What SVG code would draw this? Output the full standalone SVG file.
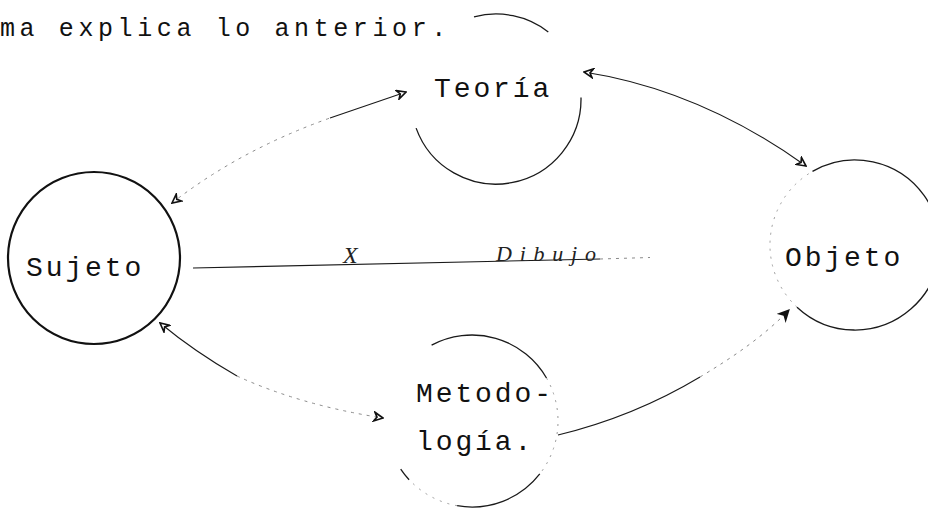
<svg xmlns="http://www.w3.org/2000/svg" width="928" height="509" viewBox="0 0 928 509">
<defs>
<style>
.bg{fill:#fff}
.tw{font-family:"Liberation Mono","DejaVu Sans Mono",monospace;fill:#111}
.lbl{font-size:28px;letter-spacing:2.9px}
.ttl{font-size:25px;letter-spacing:4.6px}
.hand{font-family:"Liberation Serif","DejaVu Serif",serif;font-style:italic;fill:#222}
.ring{fill:none;stroke:#1a1a1a;stroke-width:1.3}
.faint{fill:none;stroke:#9a9a9a;stroke-width:1;stroke-dasharray:2 6}
.edge{fill:none;stroke:#1a1a1a;stroke-width:1.1}
.edgefaint{fill:none;stroke:#8a8a8a;stroke-width:1;stroke-dasharray:3 5}
</style>
<marker id="ah-open" viewBox="0 0 10 10" refX="9" refY="5" markerWidth="11" markerHeight="11" markerUnits="userSpaceOnUse" orient="auto-start-reverse">
<path d="M1,1 L9,5 L1,9 L3.5,5 Z" fill="#fff" stroke="#111" stroke-width="1.5"/>
</marker>
<marker id="ah-fill" viewBox="0 0 10 10" refX="9" refY="5" markerWidth="13" markerHeight="13" markerUnits="userSpaceOnUse" orient="auto-start-reverse">
<path d="M0,0 L10,5 L0,10 L3,5 Z" fill="#111"/>
</marker>
</defs>
<rect class="bg" x="0" y="0" width="928" height="509"/>

<text class="tw ttl" x="0" y="36">ma explica lo anterior.</text>

<g id="connectors">
<!-- Sujeto <-> Teoria -->
<path class="edgefaint" d="M172 203 Q240 150 330 118" marker-start="url(#ah-open)"/>
<path class="edge" d="M330 118 L406 92" marker-end="url(#ah-open)"/>
<!-- Teoria <-> Objeto -->
<path class="edge" d="M584 72 Q700 90 806 166" marker-start="url(#ah-open)" marker-end="url(#ah-open)"/>
<!-- Sujeto - Objeto (Dibujo) -->
<path class="edge" d="M193 268 L600 259"/>
<path class="edgefaint" d="M600 259 L650 257.5"/>
<!-- Sujeto <-> Metodologia -->
<path class="edge" d="M160 323 Q195 352 237 376" marker-start="url(#ah-open)"/>
<path class="edgefaint" d="M237 376 Q300 405 383 418" marker-end="url(#ah-open)"/>
<!-- Metodologia -> Objeto -->
<path class="edge" d="M558 435 C620 420 670 395 700 377"/>
<path class="edgefaint" d="M700 377 C735 356 765 335 789 310" marker-end="url(#ah-fill)"/>
<text class="hand" x="343" y="263" font-size="24">X</text>
<text class="hand" x="496" y="261" font-size="22" textLength="100" lengthAdjust="spacing">Dibujo</text>
</g>

<g id="node-teoria">
<path class="ring" d="M474 16.9 A85 85 0 0 1 548.3 32"/>
<path class="ring" d="M581 97.5 A85 85 0 0 1 416.1 128.1"/>
<text class="tw lbl" x="434" y="97">Teoría</text>
</g>

<g id="node-sujeto">
<circle cx="94" cy="258" r="86" fill="none" stroke="#111" stroke-width="2.2"/>
<text class="tw lbl" x="26" y="276">Sujeto</text>
</g>

<g id="node-objeto">
<path class="ring" d="M812.5 171.4 A85 85 0 1 1 797 307.2"/>
<path class="faint" d="M797 307.2 A85 85 0 0 1 812.5 171.4"/>
<text class="tw lbl" x="785" y="266">Objeto</text>
</g>

<g id="node-metodologia">
<path class="ring" d="M431.6 345.1 A86 86 0 0 1 546.5 378"/>
<path class="faint" d="M546.5 378 A86 86 0 0 1 539.8 473.9"/>
<path class="ring" d="M539.8 473.9 A86 86 0 0 1 457.1 505.7"/>
<path class="faint" d="M457.1 505.7 A86 86 0 0 1 411.2 481.8"/>
<path class="ring" d="M409.1 479.7 A86 86 0 0 1 400.7 469.1" stroke-width="2.6"/>
<text class="tw lbl" x="416" y="402">Metodo-</text>
<text class="tw lbl" x="416" y="450">logía.</text>
</g>
</svg>
